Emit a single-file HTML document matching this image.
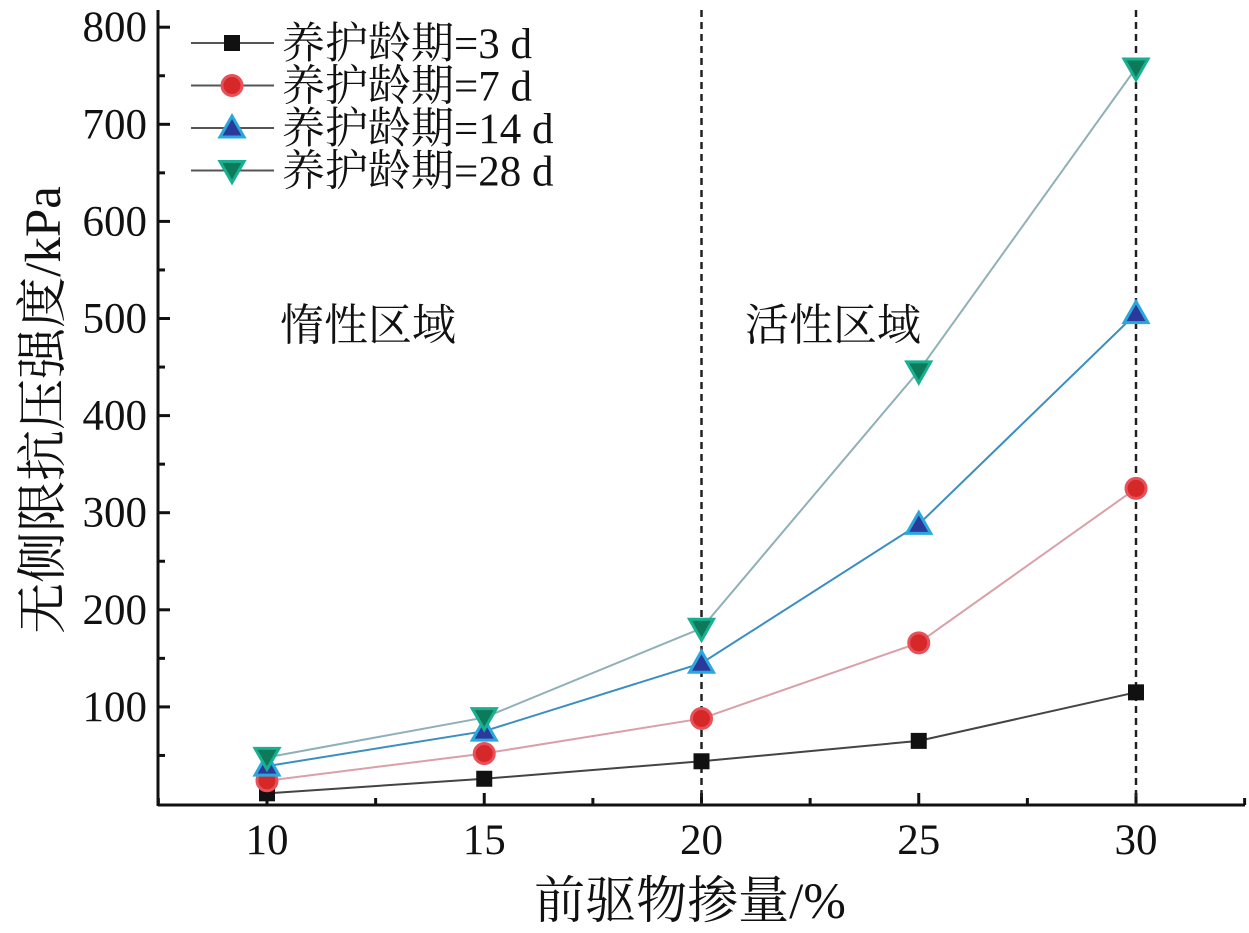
<!DOCTYPE html>
<html><head><meta charset="utf-8"><style>
html,body{margin:0;padding:0;background:#fff;}
svg{display:block;}
text{font-family:"Liberation Serif","Noto Serif CJK SC","Noto Sans CJK SC",serif;fill:#111;}
</style></head><body>
<svg id="chart" width="1249" height="933" viewBox="0 0 1249 933"></svg>
<script>
const categories=[10,15,20,25,30];
const seriesNames=["养护龄期=3 d","养护龄期=7 d","养护龄期=14 d","养护龄期=28 d"];
const s3=[11,26,44,65,115];
const s7=[24,52,88,166,325];
const s14=[39,75,145,288,505];
const s28=[48,89,181,446,758];
const yTicks=[100,200,300,400,500,600,700,800];
const xTicks=[10,15,20,25,30];
const NS="http://www.w3.org/2000/svg";
const svg=document.getElementById('chart');
function X(v){return 267+(v-10)*43.45;}
function Y(v){return 804-v*0.971;}
function el(t,a,p){const e=document.createElementNS(NS,t);for(const k in a)e.setAttribute(k,a[k]);(p||svg).appendChild(e);return e;}
let ax=el('line',{x1:158,y1:805,x2:1245,y2:805,stroke:'#111','stroke-width':3});


let ay=el('line',{x1:158,y1:10,x2:158,y2:806,stroke:'#111','stroke-width':3});


for(let v=50;v<=800;v+=50){
  const major=v%100===0;
  let t=el('line',{x1:158,x2:major?170:165,y1:Y(v),y2:Y(v),stroke:'#111','stroke-width':3});
  
  
}
yTicks.forEach(v=>{
  let t=el('text',{x:147,y:Y(v)+14,'text-anchor':'end','font-size':43});
  t.textContent=v;
  
  
});
for(let v=7.5;v<=32.5;v+=2.5){
  const major=v%5===0;
  let t=el('line',{x1:X(v),x2:X(v),y1:805,y2:major?793:798,stroke:'#111','stroke-width':3});
  
  
}
xTicks.forEach(v=>{
  let t=el('text',{x:X(v),y:854,'text-anchor':'middle','font-size':43});
  t.textContent=v;
  
  
});
[20,30].forEach(v=>{
  let d=el('line',{x1:X(v),x2:X(v),y1:10,y2:805,stroke:'#222','stroke-width':2.5,'stroke-dasharray':'7,5'});
  
  
});
let r1=el('text',{x:280,y:340,'font-size':44});r1.textContent='惰性区域';


let r2=el('text',{x:745,y:340,'font-size':44});r2.textContent='活性区域';


let xt=el('text',{x:690,y:918,'text-anchor':'middle','font-size':51});xt.textContent='前驱物掺量/%';


let yt=el('text',{x:0,y:0,'text-anchor':'middle','font-size':51,transform:'translate(60,410) rotate(-90)'});yt.textContent='无侧限抗压强度/kPa';


const series=[s3,s7,s14,s28];
const lineCol=['#444','#d9a0a8','#3a8fc0','#8fb0b8'];
const fillCol=['#111','#d62828','#2b3a9a','#0d7a5a'];
const strokeCol=['#111','#e8505a','#29a8e0','#18b090'];
const names=['series-3d','series-7d','series-14d','series-28d'];
function marker(i,x,y,g){
  let m;
  if(i===0)m=el('rect',{x:x-8,y:y-8,width:16,height:16,fill:fillCol[i]},g);
  else if(i===1)m=el('circle',{cx:x,cy:y,r:10,fill:fillCol[i],stroke:strokeCol[i],'stroke-width':3},g);
  else if(i===2)m=el('polygon',{points:`${x},${y-12} ${x+12},${y+9} ${x-12},${y+9}`,fill:fillCol[i],stroke:strokeCol[i],'stroke-width':3},g);
  else m=el('polygon',{points:`${x-12},${y-9} ${x+12},${y-9} ${x},${y+12}`,fill:fillCol[i],stroke:strokeCol[i],'stroke-width':3},g);
  return m;
}
series.forEach((s,i)=>{
  const g=el('g',{});
  
  
  let pl=el('polyline',{points:s.map((v,j)=>X(categories[j])+','+Y(v)).join(' '),fill:'none',stroke:lineCol[i],'stroke-width':2},g);
  
  
  s.forEach((v,j)=>{
    const m=marker(i,X(categories[j]),Y(v),g);
    
    
  });
});
const lg=el('g',{});


seriesNames.forEach((n,i)=>{
  const y=43+i*42.5;
  const g=el('g',{},lg);
  
  
  el('line',{x1:191,x2:274,y1:y,y2:y,stroke:'#555','stroke-width':2},g);
  marker(i,232,y,g);
  const t=el('text',{x:282,y:y+15,'font-size':43},g);
  t.textContent=n;
});
</script>
</body></html>
